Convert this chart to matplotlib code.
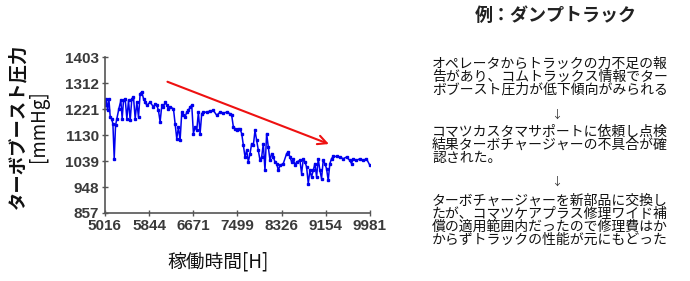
import matplotlib
matplotlib.use('Agg')
import matplotlib.pyplot as plt

plt.rcParams['font.family'] = ['Noto Sans CJK JP', 'DejaVu Sans']

# 稼働時間[H] と ターボブースト圧力[mmHg]
hours = [5016, 5041, 5066, 5091, 5116, 5141, 5166, 5191, 5216, 5241, 5278, 5315,
         5340, 5365, 5396, 5428, 5459, 5490, 5521, 5552, 5584, 5615, 5646, 5677,
         5708, 5740, 5771, 5802, 5864, 5927, 5958, 5989, 6020, 6051, 6083, 6114,
         6145, 6176, 6207, 6238, 6301, 6332, 6363, 6394, 6425, 6457, 6488, 6519,
         6550, 6581, 6613, 6644, 6675, 6706, 6737, 6768, 6800, 6831, 6862, 6925,
         6987, 7049, 7112, 7174, 7236, 7299, 7361, 7392, 7424, 7455, 7486, 7517,
         7548, 7580, 7611, 7642, 7673, 7704, 7736, 7767, 7798, 7829, 7860, 7892,
         7923, 7954, 7985, 8016, 8047, 8079, 8110, 8141, 8172, 8203, 8235, 8266,
         8297, 8359, 8422, 8453, 8484, 8515, 8546, 8578, 8609, 8671, 8702, 8734,
         8765, 8796, 8827, 8858, 8889, 8920, 8952, 8983, 9014, 9045, 9076, 9107,
         9139, 9170, 9201, 9232, 9263, 9294, 9357, 9419, 9482, 9544, 9606, 9638,
         9669, 9731, 9793, 9856, 9918, 9981]
pressure = [1234, 1257, 1216, 1257, 1193, 1187, 1170, 1047, 1164, 1187, 1222, 1251,
            1187, 1251, 1257, 1187, 1251, 1181, 1257, 1263, 1187, 1245, 1193, 1275,
            1281, 1257, 1245, 1234, 1245, 1228, 1240, 1234, 1216, 1176, 1234, 1228,
            1245, 1234, 1222, 1228, 1222, 1170, 1117, 1158, 1111, 1210, 1199, 1193,
            1210, 1216, 1228, 1234, 1135, 1158, 1146, 1210, 1135, 1205, 1210, 1210,
            1214, 1216, 1199, 1210, 1207, 1210, 1205, 1199, 1158, 1152, 1146, 1152,
            1152, 1135, 1094, 1053, 1076, 1036, 1065, 1100, 1094, 1146, 1111, 1076,
            1041, 1053, 1100, 1006, 1135, 1088, 1041, 1065, 1053, 1036, 1030, 1006,
            1024, 1030, 1065, 1071, 1053, 1036, 1047, 1024, 1036, 1041, 995, 1047,
            1036, 1018, 960, 1006, 983, 1006, 1030, 983, 1047, 1006, 977, 1041,
            1030, 1012, 971, 1030, 1047, 1055, 1055, 1053, 1047, 1053, 1041, 1030,
            1047, 1041, 1047, 1041, 1047, 1024]

xticks = [5016, 5844, 6671, 7499, 8326, 9154, 9981]
yticks = [857, 948, 1039, 1130, 1221, 1312, 1403]

# 右側の説明文
title = '例：ダンプトラック'
block1 = ['オペレータからトラックの力不足の報',
          '告があり、コムトラックス情報でター',
          'ボブースト圧力が低下傾向がみられる']
block2 = ['コマツカスタマサポートに依頼し点検',
          '結果ターボチャージャーの不具合が確',
          '認された。']
block3 = ['ターボチャージャーを新部品に交換し',
          'たが、コマツケアプラス修理ワイド補',
          '償の適用範囲内だったので修理費はか',
          'からずトラックの性能が元にもどった']

fig = plt.figure(figsize=(6.9, 2.81), dpi=100)
ax = fig.add_axes([0.152, 0.242, 0.384, 0.555])

ax.plot(hours, pressure, color='#0000ee', lw=1.1, marker='s', ms=1.8)

ax.set_xlim(xticks[0], xticks[-1])
ax.set_ylim(yticks[0], yticks[-1])
ax.set_xticks(xticks)
ax.set_yticks(yticks)
ax.set_xticklabels([str(t) for t in xticks], family='Liberation Sans',
                   fontweight='bold', fontsize=11, color='#3a3a3a')
ax.set_yticklabels([str(t) for t in yticks], family='Liberation Sans',
                   fontweight='bold', fontsize=11, color='#3a3a3a')
ax.tick_params(direction='inout', length=5, width=1, color='#555555', pad=2)
for s in ['top', 'right']:
    ax.spines[s].set_visible(False)
for s in ['left', 'bottom']:
    ax.spines[s].set_color('#555555')
    ax.spines[s].set_linewidth(1.2)

# 低下傾向の矢印
ax.annotate('', xy=(9263, 1095), xytext=(6140, 1320),
            arrowprops=dict(arrowstyle='->', color='#ee1111', lw=1.5,
                            mutation_scale=16))

fig.text(0.026, 0.552, 'ターボブースト圧力', rotation=90, ha='center', va='center',
         fontsize=13.2, fontweight='bold', color='#111111')
fig.text(0.056, 0.552, '[mmHg]', rotation=90, ha='center', va='center',
         fontsize=13.5, color='#111111')
fig.text(0.316, 0.068, '稼働時間[H]', ha='center', va='center', fontsize=13.5,
         color='#111111')

# 説明文
fig.text(0.806, 1 - 15 / 281, title, ha='center', va='center', fontsize=13,
         fontweight='bold', color='#222222')
x0 = 432 / 690
for lines, ytop in [(block1, 57), (block2, 125), (block3, 194)]:
    fig.text(x0, 1 - ytop / 281, '\n'.join(lines), ha='left', va='top',
             fontsize=10, linespacing=0.9, color='#111111')
for y in [115, 182]:
    fig.text(557 / 690, 1 - y / 281, '↓', ha='center', va='center', fontsize=8,
             color='#333333')

fig.savefig('out.png', dpi=100)
